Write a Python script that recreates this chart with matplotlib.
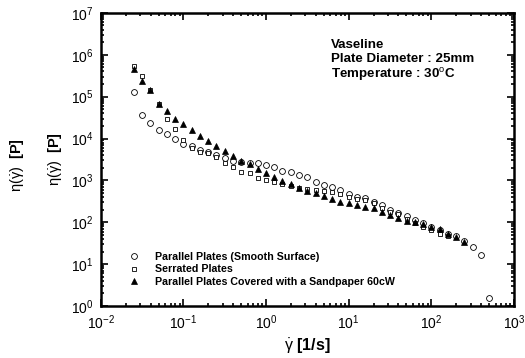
import numpy as np
import matplotlib
matplotlib.use('Agg')
import matplotlib.pyplot as plt
from matplotlib.ticker import LogLocator, NullFormatter

plt.rcParams['font.family'] = ['Liberation Sans', 'DejaVu Sans']
plt.rcParams['mathtext.fontset'] = 'custom'
plt.rcParams['mathtext.rm'] = 'Liberation Sans'
plt.rcParams['mathtext.it'] = 'Liberation Sans'
plt.rcParams['mathtext.bf'] = 'Liberation Sans:bold'

# shear rate [1/s], ten points per decade
shear_rate = [0.0251, 0.0316, 0.0398, 0.0501, 0.0631, 0.0794, 0.1, 0.126, 0.158, 0.2,
              0.251, 0.316, 0.398, 0.501, 0.631, 0.794, 1.0, 1.26, 1.58, 2.0,
              2.51, 3.16, 3.98, 5.01, 6.31, 7.94, 10.0, 12.6, 15.8, 20.0,
              25.1, 31.6, 39.8, 50.1, 63.1, 79.4, 100.0, 126.0, 158.0, 200.0,
              251.0, 316.0, 398.0, 501.0]

# viscosity [P]
smooth = [1.26e5, 3.62e4, 2.29e4, 1.59e4, 1.27e4, 9.5e3, 7.6e3, 6.6e3, 5.4e3, 4.7e3,
          4.0e3, 3.35e3, 2.94e3, 2.73e3, 2.59e3, 2.55e3, 2.32e3, 2.11e3, 1.69e3, 1.60e3,
          1.34e3, 1.18e3, 926, 772, 680, 587, 471, 406, 372, 308,
          257, 196, 169, 141, 113, 94, 78, 65, 54, 47,
          36, 26, 16.5, 1.53]
serrated = [5.3e5, 3.1e5, 1.45e5, 6.6e4, 2.86e4, 1.65e4, 9.2e3, 5.8e3, 4.7e3, 4.4e3,
            3.54e3, 2.63e3, 2.04e3, 1.60e3, 1.47e3, 1.12e3, 1.02e3, 926, 839, 751,
            673, 637, 603, 555, 526, 484, 406, 358, 339, 282,
            218, 175, 157, 119, 96, 78, 65, 54, 47]
sandpaper = [4.46e5, 2.34e5, 1.43e5, 6.6e4, 4.5e4, 2.9e4, 2.2e4, 1.59e4, 1.17e4, 8.7e3,
             6.7e3, 5.1e3, 3.74e3, 2.89e3, 2.45e3, 1.86e3, 1.52e3, 1.18e3, 962, 816,
             666, 565, 490, 422, 364, 312, 287, 264, 234, 222,
             178, 149, 128, 109, 101, 89, 78, 68, 52, 44,
             34]

labels = ['Parallel Plates (Smooth Surface)', 'Serrated Plates',
          'Parallel Plates Covered with a Sandpaper 60cW']

fig = plt.figure(figsize=(5.25, 3.58), dpi=100)
ax = fig.add_axes([0.192, 0.145, 0.787, 0.819])

ax.plot(shear_rate[:len(smooth)], smooth, 'o', ms=4.2, mfc='white', mec='black',
        mew=0.6, label=labels[0])
ax.plot(shear_rate[:len(serrated)], serrated, 's', ms=3.4, mfc='white', mec='black',
        mew=0.6, label=labels[1])
ax.plot(shear_rate[:len(sandpaper)], sandpaper, '^', ms=5, mfc='black', mec='black',
        mew=0.5, label=labels[2])

ax.set_xscale('log')
ax.set_yscale('log')
ax.set_xlim(1e-2, 1e3)
ax.set_ylim(1e0, 1e7)
ax.xaxis.set_major_locator(LogLocator(base=10, numticks=10))
ax.yaxis.set_major_locator(LogLocator(base=10, numticks=10))
ax.xaxis.set_minor_locator(LogLocator(base=10, subs=np.arange(2, 10), numticks=20))
ax.yaxis.set_minor_locator(LogLocator(base=10, subs=np.arange(2, 10), numticks=20))
ax.xaxis.set_minor_formatter(NullFormatter())
ax.yaxis.set_minor_formatter(NullFormatter())

ax.tick_params(which='both', direction='in', top=True, right=True, width=1.2)
ax.tick_params(which='major', length=5, labelsize=10, pad=5)
ax.tick_params(axis='x', which='major', pad=5)
ax.tick_params(which='minor', length=2.5)
for s in ax.spines.values():
    s.set_linewidth(1.8)

ylab = r'$\eta(\dot{\gamma})$  [P]'
ax.set_xlabel(r'$\dot{\gamma}$ [1/s]', fontsize=11.5, fontweight='bold', labelpad=4)
ax.set_ylabel(ylab, fontsize=10.5, fontweight='bold', labelpad=5)
fig.text(0.032, 0.54, ylab, rotation=90, fontsize=10.5,
         fontweight='bold', ha='center', va='center')

ax.text(0.557, 0.91, 'Vaseline\nPlate Diameter : 25mm\nTemperature : 30$^{\\rm o}$C',
        transform=ax.transAxes, fontsize=9.6, fontweight='bold', va='top',
        linespacing=1.15)

ax.legend(loc='lower left', bbox_to_anchor=(0.045, 0.05), frameon=False,
          prop={'size': 7.7, 'weight': 'bold'}, handletextpad=0.9, labelspacing=0.25,
          borderaxespad=0)

fig.savefig('out.png', dpi=100)
